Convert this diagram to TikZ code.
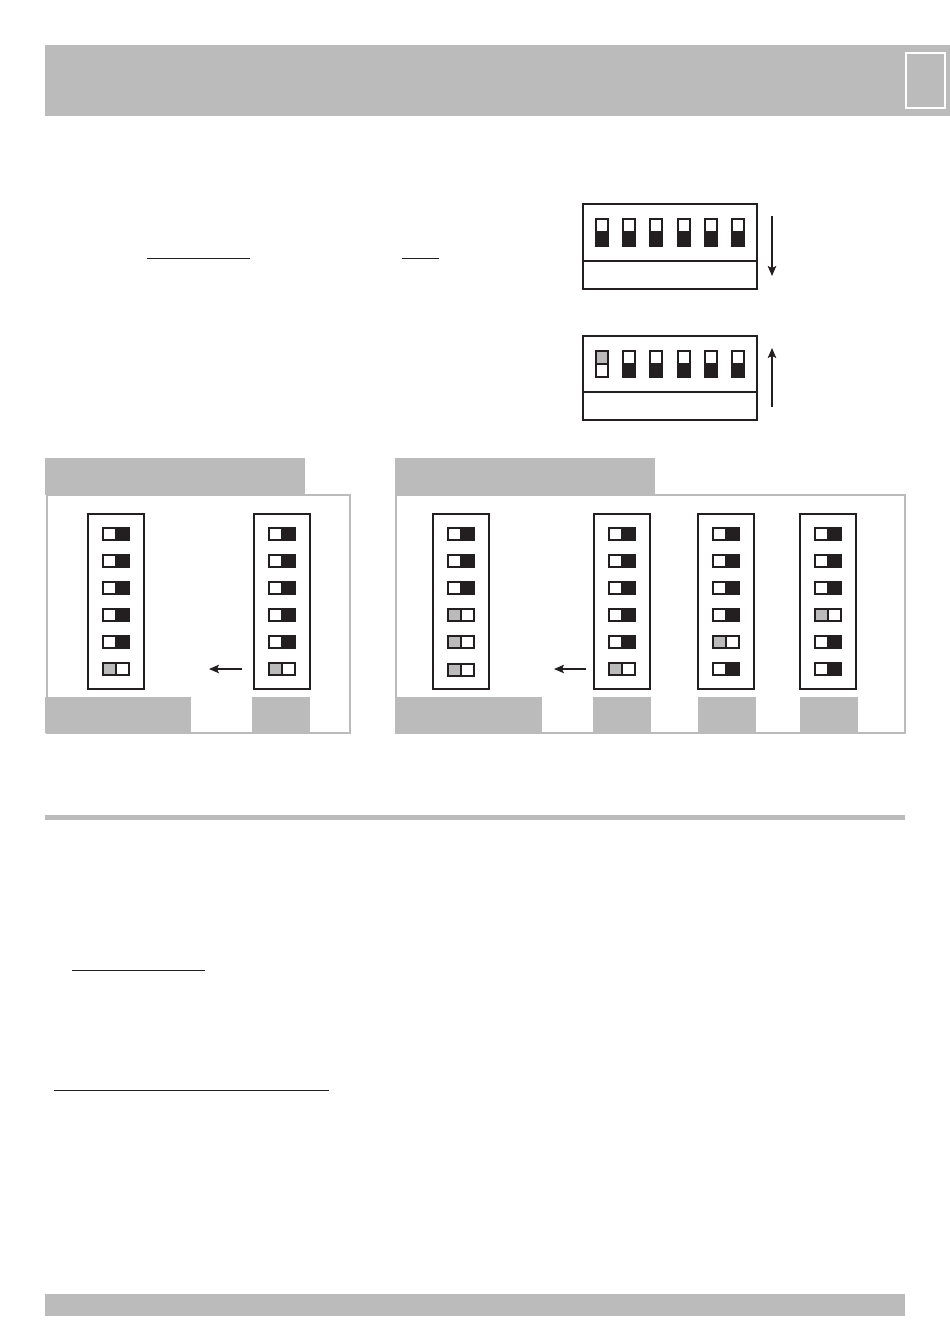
\documentclass[tikz,border=0pt]{standalone}
\usepackage{tikz}
\usetikzlibrary{arrows.meta, positioning}

\definecolor{bandgray}{HTML}{BBBBBB}
\definecolor{inkblack}{HTML}{231F20}

% one vertical column of six sideways switches
\newcommand{\dipcolumn}[3]{%
  \node[dipbox] (#1) at (#2,601.5) {};
  \foreach \st/\yy [count=\r] in {#3} {
    \node[hcell,\st L] (#1-\r-l) at (#2-6.5,\yy) {};
    \node[hcell,\st R] (#1-\r-r) at (#2+6.5,\yy) {};
  }
}

\begin{document}
\begin{tikzpicture}[
    x=1pt, y=-1pt,
    band/.style={rectangle, fill=bandgray, inner sep=0pt, outer sep=0pt},
    panel/.style={rectangle, draw=bandgray, line width=2pt, fill=white, inner sep=0pt},
    dipbox/.style={rectangle, draw=inkblack, line width=2.2pt, minimum width=56pt, minimum height=175pt, inner sep=0pt},
    widebox/.style={rectangle, draw=inkblack, line width=2.2pt, minimum width=174pt, inner sep=0pt},
    hcell/.style={rectangle, draw=inkblack, line width=2pt, minimum width=13pt, minimum height=12pt, inner sep=0pt, outer sep=0pt},
    vcell/.style={rectangle, draw=inkblack, line width=2pt, minimum width=12pt, minimum height=13pt, inner sep=0pt, outer sep=0pt},
    darkL/.style={fill=white},
    darkR/.style={fill=inkblack},
    litL/.style={fill=bandgray},
    litR/.style={fill=white},
    arrow/.style={draw=inkblack, line width=1.5pt, -{Stealth[length=10pt,width=8.5pt,inset=2pt]}},
    rule/.style={draw=inkblack, line width=1pt}
]
\useasboundingbox (0,0) rectangle (950,1344);

% Header and bottom bands
\node[band, minimum width=905pt, minimum height=71pt] (header) at (497.5,80.5) {};
\node[rectangle, draw=white, line width=2.5pt, minimum width=39pt, minimum height=55pt] (pagebox) at (925.5,80.5) {};
\node[band, minimum width=860pt, minimum height=5pt] (divider) at (475,817.5) {};
\node[band, minimum width=860pt, minimum height=22pt] (footer) at (475,1305) {};

% Underlines
\draw[rule] (147,258) -- (250,258);
\draw[rule] (402,258) -- (439,258);
\draw[rule] (72,970) -- (205,970);
\draw[rule] (54,1090) -- (329,1090);

% Upper switch blocks
\node[widebox, minimum height=85pt] (upperdip) at (670,246.5) {};
\node[widebox, minimum height=84pt] (lowerdip) at (670,378) {};
\draw[draw=inkblack, line width=2pt] (upperdip.west |- 0,261) -- (upperdip.east |- 0,261);
\draw[draw=inkblack, line width=2pt] (lowerdip.west |- 0,392) -- (lowerdip.east |- 0,392);
\foreach \xx [count=\i] in {602,629,656,684,711,738} {
    \node[vcell, fill=white] (uptop\i) at (\xx,225) {};
    \node[vcell, fill=inkblack] (upbot\i) at (\xx,239) {};
}
\node[vcell, fill=bandgray] (lowtop1) at (602,357) {};
\node[vcell, fill=white] (lowbot1) at (602,370) {};
\foreach \xx [count=\i from 2] in {629,656,684,711,738} {
    \node[vcell, fill=white] (lowtop\i) at (\xx,357) {};
    \node[vcell, fill=inkblack] (lowbot\i) at (\xx,370) {};
}
\coordinate (downstart) at (772,216);
\coordinate (downend) at (772,276);
\coordinate (upstart) at (772,407);
\coordinate (upend) at (772,348);
\draw[arrow] (downstart) -- (downend);
\draw[arrow] (upstart) -- (upend);

% Left panel
\node[panel, minimum width=303pt, minimum height=238pt] (leftpanel) at (198.5,614) {};
\node[band, minimum width=260pt, minimum height=37pt] (lefttab) at (175,476.5) {};
\node[band, minimum width=146pt, minimum height=36pt] (leftfoot1) at (118,715) {};
\node[band, minimum width=58pt, minimum height=35pt] (leftfoot2) at (281,714.5) {};
\dipcolumn{leftA}{116}{dark/534,dark/561,dark/588,dark/615,dark/642,lit/669}
\dipcolumn{leftB}{282}{dark/534,dark/561,dark/588,dark/615,dark/642,lit/669}
\coordinate (leftarrowA) at (242,669);
\coordinate (leftarrowB) at (209,669);
\draw[arrow] (leftarrowA) -- (leftarrowB);

% Right panel
\node[panel, minimum width=509pt, minimum height=238pt] (rightpanel) at (650.5,614) {};
\node[band, minimum width=260pt, minimum height=37pt] (righttab) at (525,476.5) {};
\node[band, minimum width=146pt, minimum height=36pt] (rightfoot1) at (469,715) {};
\node[band, minimum width=58pt, minimum height=36pt] (rightfoot2) at (622,715) {};
\node[band, minimum width=58pt, minimum height=36pt] (rightfoot3) at (727,715) {};
\node[band, minimum width=58pt, minimum height=36pt] (rightfoot4) at (829,715) {};
\dipcolumn{rightA}{461}{dark/534,dark/561,dark/588,lit/615,lit/642,lit/670}
\dipcolumn{rightB}{622}{dark/534,dark/561,dark/588,dark/615,dark/642,lit/669}
\dipcolumn{rightC}{726}{dark/534,dark/561,dark/588,dark/615,lit/642,dark/669}
\dipcolumn{rightD}{828}{dark/534,dark/561,dark/588,lit/615,dark/642,dark/669}
\coordinate (rightarrowA) at (586,669);
\coordinate (rightarrowB) at (554,669);
\draw[arrow] (rightarrowA) -- (rightarrowB);

\end{tikzpicture}
\end{document}
